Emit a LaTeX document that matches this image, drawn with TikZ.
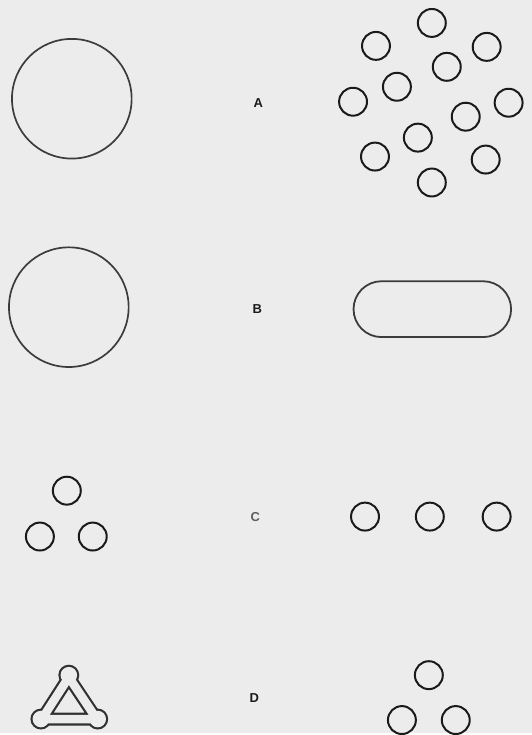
\documentclass[tikz,border=0pt]{standalone}
\usepackage{fontspec}
\setsansfont{Liberation Sans}
\usepackage{xcolor}
\usetikzlibrary{shapes.misc, positioning}

\definecolor{paper}{HTML}{ECECEC}
\definecolor{ink}{HTML}{1A1A1A}

\begin{document}
\begin{tikzpicture}[
    x=1pt, y=-1pt,
    big/.style={circle, draw=ink!85, line width=1.7pt,
                minimum size=120pt, inner sep=0pt},
    ball/.style={circle, draw=ink, line width=2pt,
                 minimum size=28pt, inner sep=0pt},
    rod/.style={rounded rectangle, draw=ink!85, line width=1.8pt,
                minimum width=158pt, minimum height=56pt, inner sep=0pt},
    tag/.style={font=\sffamily\bfseries\fontsize{13}{14}\selectfont, text=ink}
]
    % paper
    \fill[paper] (0,0) rectangle (533,735);

    % row A
    \node[big] (bigA) at (72,99) {};
    \node[tag] (labA) at (259,103) {A};
    \node[ball] (a1) at (433,23) {};
    \node[ball] (a2) at (377,46) {};
    \node[ball] (a3) at (488,47) {};
    \node[ball] (a4) at (448,67) {};
    \node[ball] (a5) at (398,87) {};
    \node[ball] (a6) at (354,102) {};
    \node[ball] (a7) at (510,103) {};
    \node[ball] (a8) at (467,117) {};
    \node[ball] (a9) at (419,138) {};
    \node[ball] (a10) at (376,157) {};
    \node[ball] (a11) at (487,160) {};
    \node[ball] (a12) at (433,183) {};

    % row B
    \node[big] (bigB) at (69,308) {};
    \node[tag] (labB) at (258,310) {B};
    \node[rod] (rodB) at (433.5,310) {};

    % row C
    \node[ball] (c1) at (67,492) {};
    \node[ball] (c2) at (40,538) {};
    \node[ball] (c3) at (93,538) {};
    \node[tag, text=ink!70] (labC) at (256,518) {C};
    \node[ball] (c4) at (366,518) {};
    \node[ball] (c5) at (431,518) {};
    \node[ball] (c6) at (498,518) {};

    % row D
    \draw[ink!90, line width=13pt, line join=round]
        (69,679) -- (42,721) -- (97,721) -- cycle;
    \fill[ink!90] (69,677) circle (10.5) (41,721) circle (10.5) (98,721) circle (10.5);
    \draw[paper, line width=8.6pt, line join=round]
        (69,679) -- (42,721) -- (97,721) -- cycle;
    \fill[paper] (69,677) circle (8.3) (41,721) circle (8.3) (98,721) circle (8.3);
    \node[tag] (labD) at (255,700) {D};
    \node[ball] (d1) at (430,677) {};
    \node[ball] (d2) at (403,722) {};
    \node[ball] (d3) at (457,722) {};
\end{tikzpicture}
\end{document}
